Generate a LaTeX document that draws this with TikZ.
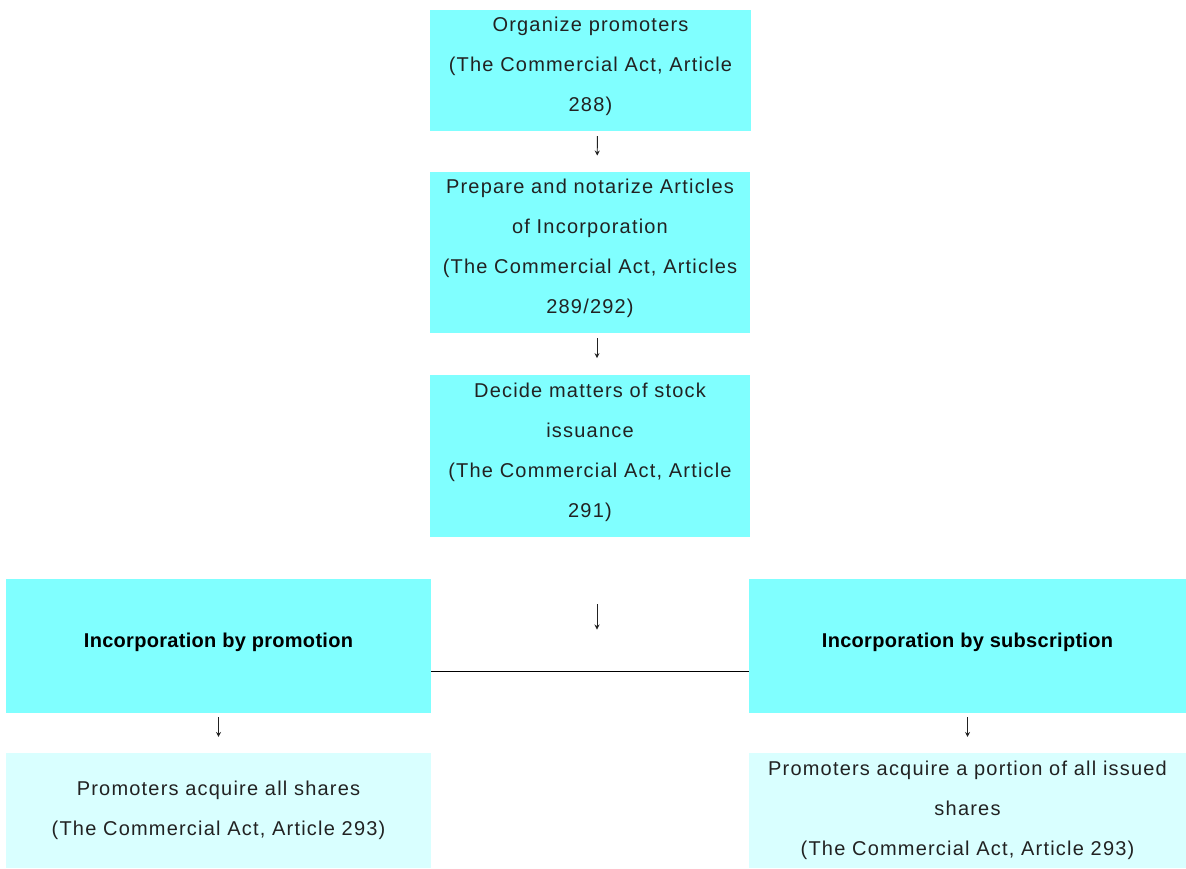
\documentclass[tikz,border=0pt]{standalone}
\usepackage{fontspec}
\setmainfont{Liberation Sans}
\newfontfamily\widesans[LetterSpace=6]{Liberation Sans}
\newfontfamily\headsans[LetterSpace=1.5]{Liberation Sans}
\usetikzlibrary{calc}
\usetikzlibrary{arrows.meta}
\definecolor{boxcyan}{HTML}{80FFFF}
\definecolor{boxpale}{HTML}{D9FFFF}
\definecolor{inktext}{HTML}{222222}

\begin{document}
\begin{tikzpicture}[x=1pt, y=-1pt,
  stepbox/.style={fill=boxcyan, inner sep=0pt, align=center, text=inktext,
    text depth=12pt, font=\widesans\fontsize{20}{40}\selectfont},
  routebox/.style={stepbox, minimum width=425pt, minimum height=134pt,
    font=\headsans\fontsize{20}{40}\selectfont\bfseries, text=black},
  resultbox/.style={stepbox, fill=boxpale, minimum height=115pt, text depth=4pt},
  downarrow/.style={-{Stealth[length=5pt, width=5pt]}, line width=0.9pt, draw=inktext}]
  \useasboundingbox (0,0) rectangle (1186,869);

  % main steps
  \node[stepbox, minimum width=321pt, minimum height=121pt] (organize) at (590.5,70.5)
    {Organize promoters\\(The Commercial Act, Article\\288)};
  \node[stepbox, minimum width=320pt, minimum height=161pt] (prepare) at (590,252.5)
    {Prepare and notarize Articles\\of Incorporation\\(The Commercial Act, Articles\\289/292)};
  \node[stepbox, minimum width=320pt, minimum height=162pt] (decide) at (590,456)
    {Decide matters of stock\\issuance\\(The Commercial Act, Article\\291)};

  % two ways
  \node[routebox] (promotion) at (218.5,646) {Incorporation by promotion};
  \node[routebox, minimum width=437pt] (subscription) at (967.5,646) {Incorporation by subscription};
  \node[resultbox, minimum width=425pt] (allshares) at (218.5,810.5)
    {Promoters acquire all shares\\(The Commercial Act, Article 293)};
  \node[resultbox, minimum width=437pt] (portion) at (967.5,810.5)
    {Promoters acquire a portion of all issued\\shares\\(The Commercial Act, Article 293)};

  \coordinate (split) at (590,671);
  \draw[line width=1pt] (split -| promotion.east) -- (split -| subscription.west);

  % arrows
  \draw[downarrow] ($(organize.south)!0.12!(prepare.north)+(7,0)$) -- ($(organize.south)!0.6!(prepare.north)+(7,0)$);
  \draw[downarrow] ($(prepare.south)!0.12!(decide.north)+(7,0)$) -- ($(prepare.south)!0.6!(decide.north)+(7,0)$);
  \draw[downarrow] ($(decide.south)!0.5!(split)+(7,0)$) -- ($(decide.south)!0.69!(split)+(7,0)$);
  \draw[downarrow] ($(promotion.south)!0.1!(allshares.north)$) -- ($(promotion.south)!0.6!(allshares.north)$);
  \draw[downarrow] ($(subscription.south)!0.1!(portion.north)$) -- ($(subscription.south)!0.6!(portion.north)$);
\end{tikzpicture}
\end{document}
